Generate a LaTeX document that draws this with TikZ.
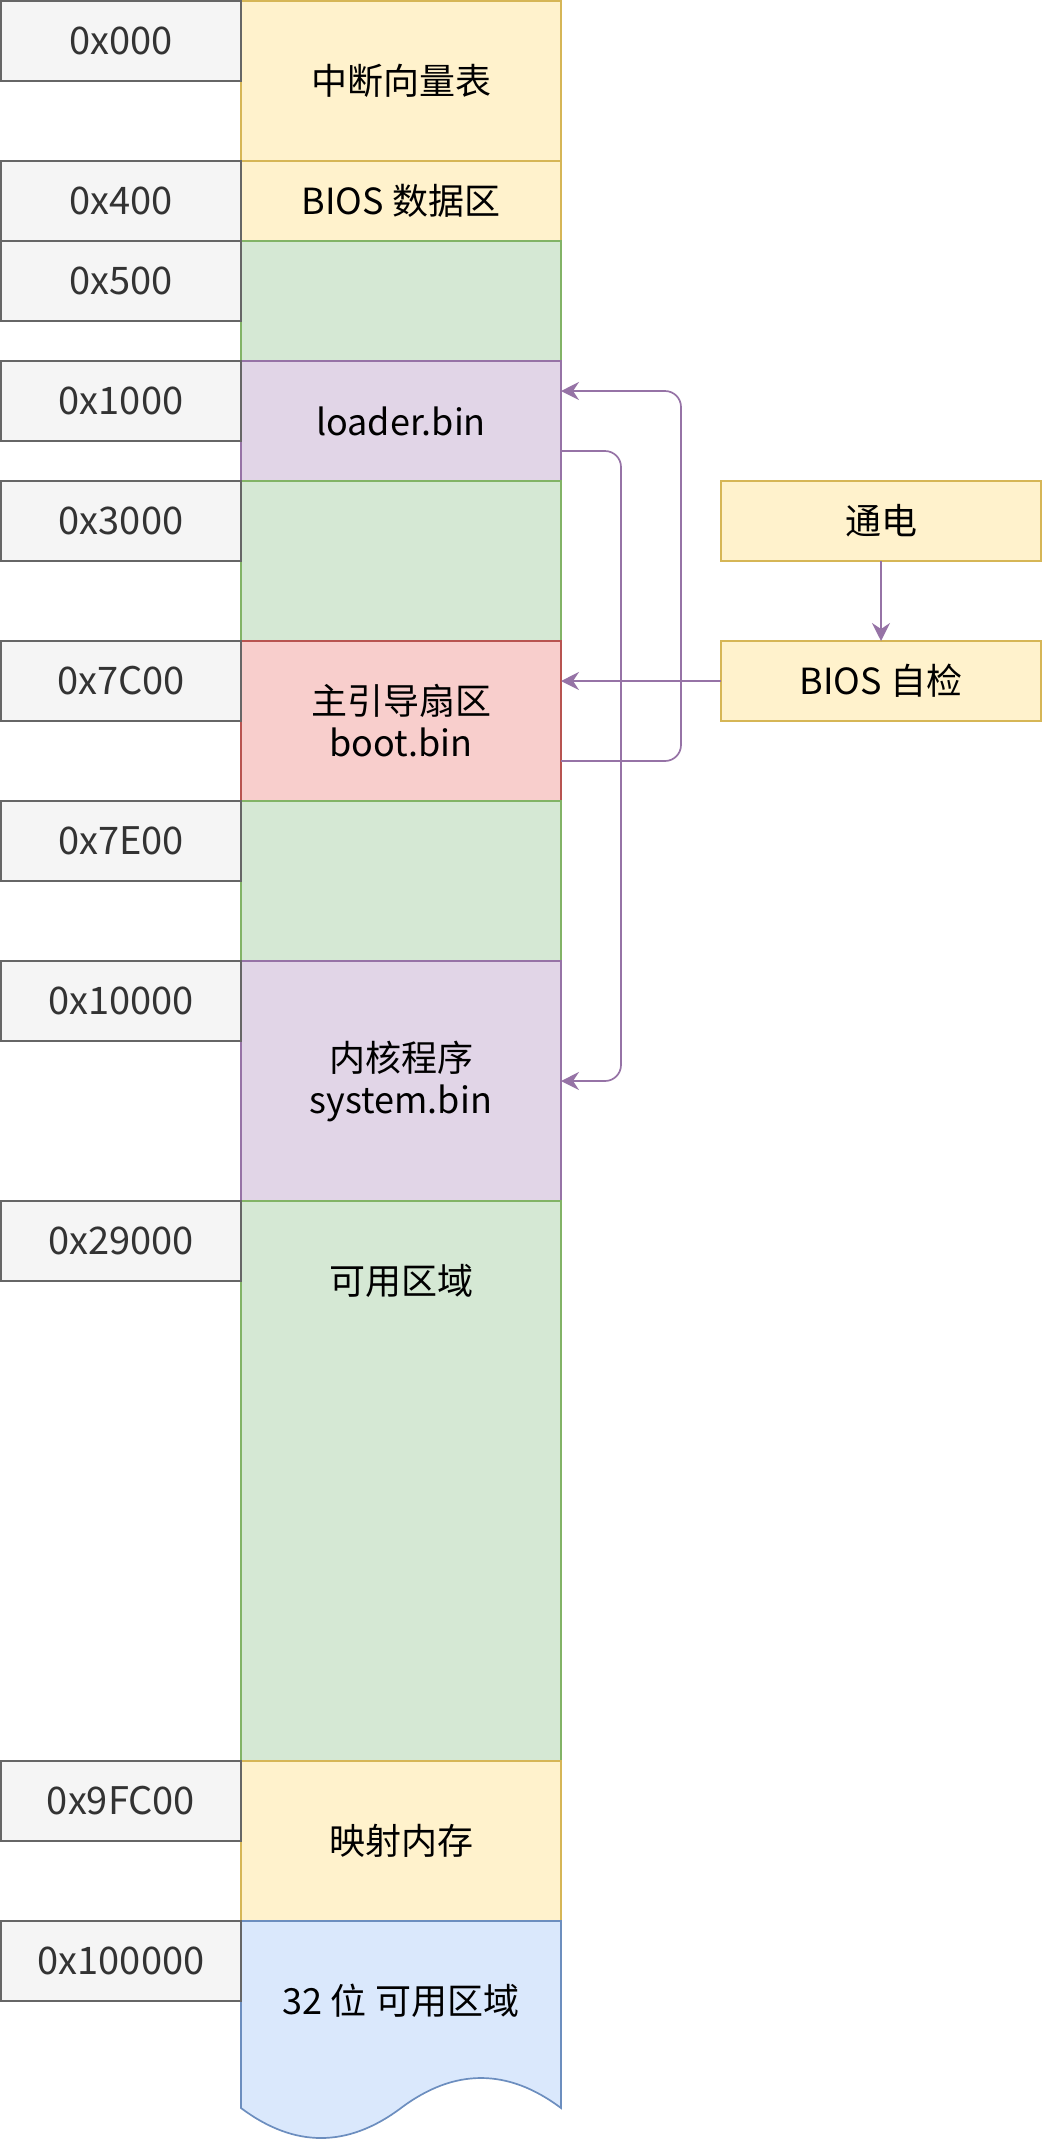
\documentclass[tikz,border=0pt]{standalone}
\usepackage{fontspec}
\setmainfont{Noto Sans CJK SC}
\usepackage{tikz}
\usetikzlibrary{arrows.meta, positioning, calc}
\definecolor{addrfill}{RGB}{245,245,245}
\definecolor{addrline}{RGB}{102,102,102}
\definecolor{addrtext}{RGB}{51,51,51}
\definecolor{yelfill}{RGB}{255,242,204}
\definecolor{yelline}{RGB}{214,182,86}
\definecolor{grnfill}{RGB}{213,232,212}
\definecolor{grnline}{RGB}{130,179,102}
\definecolor{purfill}{RGB}{225,213,231}
\definecolor{purline}{RGB}{150,115,166}
\definecolor{redfill}{RGB}{248,206,204}
\definecolor{redline}{RGB}{184,84,80}
\definecolor{blufill}{RGB}{218,232,252}
\definecolor{bluline}{RGB}{108,142,191}
\tikzset{
  addr/.style={rectangle, draw=addrline, fill=addrfill, text=addrtext,
    minimum width=120pt, minimum height=40pt, anchor=north west,
    outer sep=0pt, line width=0.85pt, font=\fontsize{19}{23}\selectfont},
  memfont/.style={font=\fontsize{18}{21}\selectfont},
  mem/.style={rectangle, minimum width=160pt, anchor=north west,
    outer sep=0pt, line width=0.85pt, align=center, memfont},
  yelblock/.style={mem, draw=yelline, fill=yelfill},
  grnblock/.style={mem, draw=grnline, fill=grnfill},
  purblock/.style={mem, draw=purline, fill=purfill},
  redblock/.style={mem, draw=redline, fill=redfill},
  stepbox/.style={yelblock, minimum height=40pt},
  arrow/.style={-{Stealth[length=9pt, width=9pt, inset=3pt]}, draw=purline,
    line width=0.85pt, rounded corners=8pt}
}

\begin{document}
\begin{tikzpicture}[x=0.5pt, y=-0.5pt]
  \useasboundingbox (-1,-1) rectangle (1041,2141);

  % memory column
  \node[yelblock, minimum height=80pt] (ivt) at (240,0) {中断向量表};
  \node[yelblock, minimum height=40pt] (bda) at (240,160) {BIOS 数据区};
  \node[grnblock, minimum height=60pt] (free1) at (240,240) {};
  \node[purblock, minimum height=60pt] (loader) at (240,360) {loader.bin};
  \node[grnblock, minimum height=80pt] (free2) at (240,480) {};
  \node[redblock, minimum height=80pt] (mbr) at (240,640) {主引导扇区\\boot.bin};
  \node[grnblock, minimum height=80pt] (free3) at (240,800) {};
  \node[purblock, minimum height=120pt] (kernel) at (240,960) {内核程序\\system.bin};
  \node[grnblock, minimum height=280pt,
    label={[memfont, anchor=center, yshift=-40pt]north:可用区域}] (avail) at (240,1200) {};
  \node[yelblock, minimum height=80pt] (mapped) at (240,1760) {映射内存};
  \draw[draw=bluline, fill=blufill, line width=0.85pt]
    (240,1920) -- (560,1920) -- (560,2107)
    .. controls (506.7,2067) and (453.3,2067) .. (400,2107)
    .. controls (346.7,2147) and (293.3,2147) .. (240,2107) -- cycle;
  \node[memfont] (ext) at (400,2000) {32 位 可用区域};

  % addresses
  \node[addr] (a0) at (0,0) {0x000};
  \node[addr] (a1) at (0,160) {0x400};
  \node[addr] (a2) at (0,240) {0x500};
  \node[addr] (a3) at (0,360) {0x1000};
  \node[addr] (a4) at (0,480) {0x3000};
  \node[addr] (a5) at (0,640) {0x7C00};
  \node[addr] (a6) at (0,800) {0x7E00};
  \node[addr] (a7) at (0,960) {0x10000};
  \node[addr] (a8) at (0,1200) {0x29000};
  \node[addr] (a9) at (0,1760) {0x9FC00};
  \node[addr] (a10) at (0,1920) {0x100000};

  % boot steps
  \node[stepbox] (power) at (720,480) {通电};
  \node[stepbox] (bios) at (720,640) {BIOS 自检};

  \draw[arrow] (power) -- (bios);
  \draw[arrow] (bios.west) -- (bios.west -| mbr.east);
  \draw[arrow] ([yshift=20pt]mbr.south east) -- ++(120,0) |- ([yshift=-15pt]loader.north east);
  \draw[arrow] ([yshift=15pt]loader.south east) -- ++(60,0) |- (kernel.east);
\end{tikzpicture}
\end{document}
